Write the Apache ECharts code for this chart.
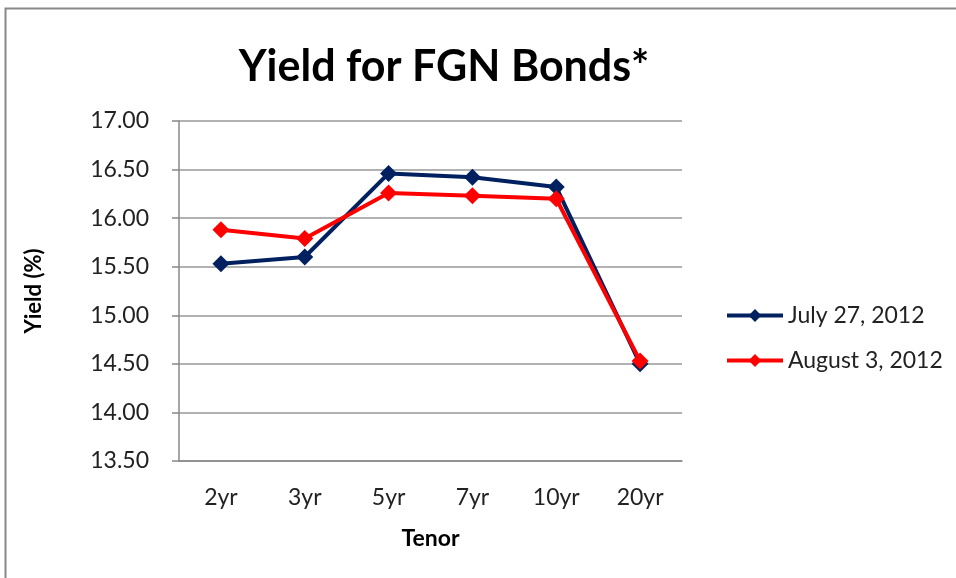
<!DOCTYPE html>
<html>
<head>
<meta charset="utf-8">
<script src="https://cdn.jsdelivr.net/npm/echarts@6/dist/echarts.min.js"></script>
<style>
  html, body { margin: 0; padding: 0; background: #fff; }
  #chart { width: 956px; height: 578px; }
</style>
</head>
<body>
<div id="chart"></div>
<script>
// data
var tenors = ['2yr', '3yr', '5yr', '7yr', '10yr', '20yr'];
var july27 = [15.53, 15.60, 16.46, 16.42, 16.32, 14.50];
var august3 = [15.88, 15.79, 16.26, 16.23, 16.20, 14.53];
var seriesNames = ['July 27, 2012', 'August 3, 2012'];

var font = 'Lato, "Open Sans", sans-serif';

var myChart = echarts.init(document.getElementById('chart'));

function lineSeries(name, values, color) {
    return {
        name: name,
        type: 'line',
        data: values,
        symbol: 'diamond',
        symbolSize: 17,
        lineStyle: { width: 4, color: color },
        itemStyle: { color: color },
        emphasis: { disabled: true },
        animation: false
    };
}

var option = {
    backgroundColor: '#fff',
    title: {
        text: 'Yield for FGN Bonds*',
        left: 439,
        top: 41,
        textAlign: 'center',
        textStyle: { fontFamily: font, fontWeight: 'bold', fontSize: 43, color: '#000' }
    },
    graphic: [{
        type: 'rect',
        shape: { x: 5.5, y: 8.5, width: 1000, height: 1000 },
        style: { fill: 'none', stroke: '#888', lineWidth: 2 },
        silent: true
    }],
    legend: {
        orient: 'vertical',
        left: 720,
        top: 299,
        itemWidth: 56,
        itemHeight: 16,
        itemGap: 22,
        data: seriesNames,
        lineStyle: { width: 4 },
        textStyle: { fontFamily: font, fontSize: 23, color: '#222' }
    },
    grid: { left: 179, right: 274, top: 121, bottom: 117 },
    xAxis: {
        type: 'category',
        data: tenors,
        boundaryGap: true,
        name: 'Tenor',
        nameLocation: 'middle',
        nameGap: 66,
        nameTextStyle: { fontFamily: font, fontWeight: 'bold', fontSize: 23, color: '#000' },
        axisLine: { show: true, lineStyle: { color: '#888', width: 1.5 } },
        axisTick: { show: false },
        axisLabel: { fontFamily: font, fontSize: 23, color: '#222', margin: 25 }
    },
    yAxis: {
        type: 'value',
        min: 13.5,
        max: 17,
        interval: 0.5,
        name: 'Yield (%)',
        nameLocation: 'middle',
        nameGap: 134,
        nameRotate: 90,
        nameTextStyle: { fontFamily: font, fontWeight: 'bold', fontSize: 22, color: '#000' },
        axisLine: { show: true, lineStyle: { color: '#888', width: 1.5 } },
        axisTick: { show: true, length: 7, lineStyle: { color: '#888', width: 1.5 } },
        splitLine: { lineStyle: { color: '#999', width: 1.5 } },
        axisLabel: {
            fontFamily: font, fontSize: 23, color: '#222', margin: 30,
            formatter: function (v) { return v.toFixed(2); }
        }
    },
    series: [
        lineSeries(seriesNames[0], july27, '#002060'),
        lineSeries(seriesNames[1], august3, '#ff0000')
    ]
};

myChart.setOption(option);
</script>
</body>
</html>
